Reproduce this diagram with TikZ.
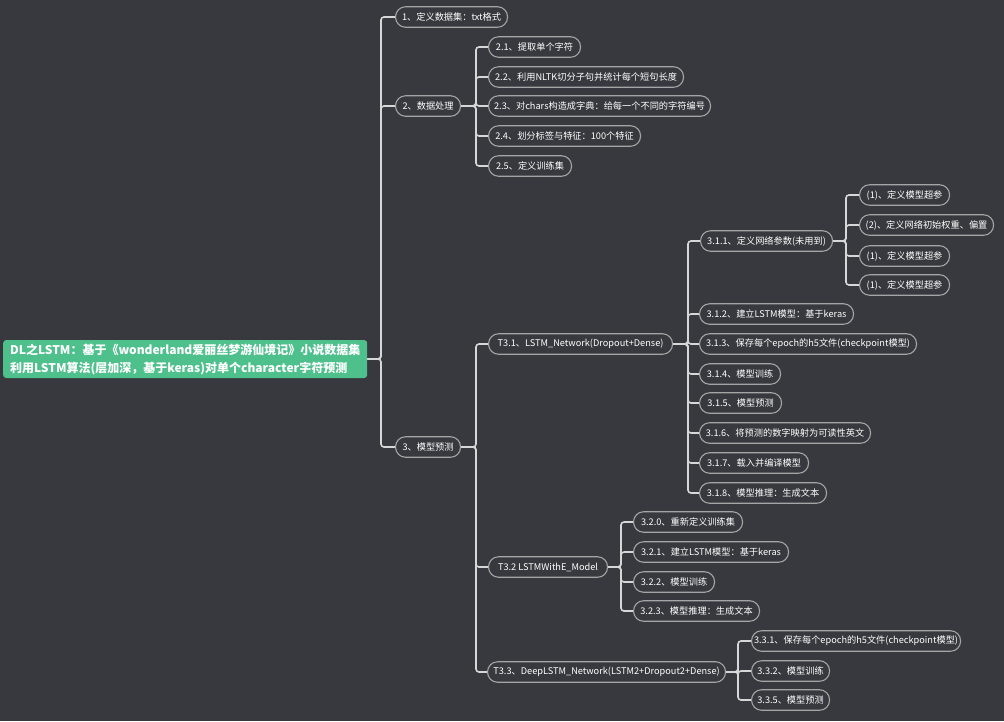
\documentclass[tikz,border=0pt]{standalone}
\usepackage{fontspec}
\setmainfont{Noto Sans CJK SC}
\definecolor{bg}{RGB}{55,57,62}
\definecolor{rootgreen}{RGB}{78,192,140}
\definecolor{pillborder}{RGB}{165,165,165}
\definecolor{linecol}{RGB}{215,215,215}
\tikzset{
  pill/.style={draw=pillborder, line width=1.1pt, fill=bg, rounded corners=10pt,
    minimum height=20.5pt, inner sep=0pt, anchor=west, text=white,
    font=\fontsize{9.2}{11}\selectfont},
  rootbox/.style={fill=rootgreen, rounded corners=3pt, minimum height=38pt,
    text width=350pt, inner xsep=7pt, inner ysep=0pt, anchor=west, text=white, align=left,
    font=\fontsize{12}{18}\selectfont\bfseries},
  conn/.style={draw=linecol, line width=1.6pt, rounded corners=3pt},
}
\newcommand{\pill}[5]{\node[pill, minimum width=#4pt] (#1) at (#2pt,-#3pt) {#5};}
\newcommand{\link}[3]{\draw[conn] (#1.east) -- (#3pt,0 |- #1.east) |- (#2.west);}
\begin{document}
\begin{tikzpicture}[x=1pt,y=1pt]
\useasboundingbox[fill=bg] (0,0) rectangle (1004,-721);
\node[rootbox] (root) at (3,-359) {DL之LSTM：基于《wonderland爱丽丝梦游仙境记》小说数据集\\利用LSTM算法(层加深，基于keras)对单个character字符预测};
\pill{n1}{395}{17}{112}{1、定义数据集：txt格式}
\pill{n2}{395}{106}{65}{2、数据处理}
\pill{n3}{395}{447}{65}{3、模型预测}
\pill{a1}{488}{47}{92}{2.1、提取单个字符}
\pill{a2}{488}{77}{195}{2.2、利用NLTK切分子句并统计每个短句长度}
\pill{a3}{488}{106}{222}{2.3、对chars构造成字典：给每一个不同的字符编号}
\pill{a4}{488}{136}{152}{2.4、划分标签与特征：100个特征}
\pill{a5}{488}{166}{83}{2.5、定义训练集}
\pill{t1}{488}{344}{184}{T3.1、LSTM\_Network(Dropout+Dense)}
\pill{t2}{488}{567}{119}{T3.2 LSTMWithE\_Model}
\pill{t3}{487}{672}{238}{T3.3、DeepLSTM\_Network(LSTM2+Dropout2+Dense)}
\pill{b1}{700}{241}{132}{3.1.1、定义网络参数(未用到)}
\pill{b2}{699}{314}{154}{3.1.2、建立LSTM模型：基于keras}
\pill{b3}{699}{344}{217}{3.1.3、保存每个epoch的h5文件(checkpoint模型)}
\pill{b4}{699}{374}{81}{3.1.4、模型训练}
\pill{b5}{699}{403}{82}{3.1.5、模型预测}
\pill{b6}{699}{433}{171}{3.1.6、将预测的数字映射为可读性英文}
\pill{b7}{699}{463}{109}{3.1.7、载入并编译模型}
\pill{b8}{699}{493}{127}{3.1.8、模型推理：生成文本}
\pill{c1}{859}{195}{90}{(1)、定义模型超参}
\pill{c2}{859}{225}{134}{(2)、定义网络初始权重、偏置}
\pill{c3}{859}{256}{90}{(1)、定义模型超参}
\pill{c4}{859}{285}{90}{(1)、定义模型超参}
\pill{d0}{633}{522}{109}{3.2.0、重新定义训练集}
\pill{d1}{633}{552}{155}{3.2.1、建立LSTM模型：基于keras}
\pill{d2}{633}{582}{81}{3.2.2、模型训练}
\pill{d3}{633}{611}{126}{3.2.3、模型推理：生成文本}
\pill{e1}{751}{641}{209}{3.3.1、保存每个epoch的h5文件(checkpoint模型)}
\pill{e2}{751}{671}{78}{3.3.2、模型训练}
\pill{e3}{751}{700}{78}{3.3.5、模型预测}
\link{root}{n1}{381}\link{root}{n2}{381}\link{root}{n3}{381}
\link{n2}{a1}{476}\link{n2}{a2}{476}\link{n2}{a3}{476}\link{n2}{a4}{476}\link{n2}{a5}{476}
\link{n3}{t1}{476}\link{n3}{t2}{476}\link{n3}{t3}{476}
\link{t1}{b1}{688}\link{t1}{b2}{688}\link{t1}{b3}{688}\link{t1}{b4}{688}
\link{t1}{b5}{688}\link{t1}{b6}{688}\link{t1}{b7}{688}\link{t1}{b8}{688}
\link{b1}{c1}{846}\link{b1}{c2}{846}\link{b1}{c3}{846}\link{b1}{c4}{846}
\link{t2}{d0}{621}\link{t2}{d1}{621}\link{t2}{d2}{621}\link{t2}{d3}{621}
\link{t3}{e1}{738}\link{t3}{e2}{738}\link{t3}{e3}{738}
\end{tikzpicture}
\end{document}
